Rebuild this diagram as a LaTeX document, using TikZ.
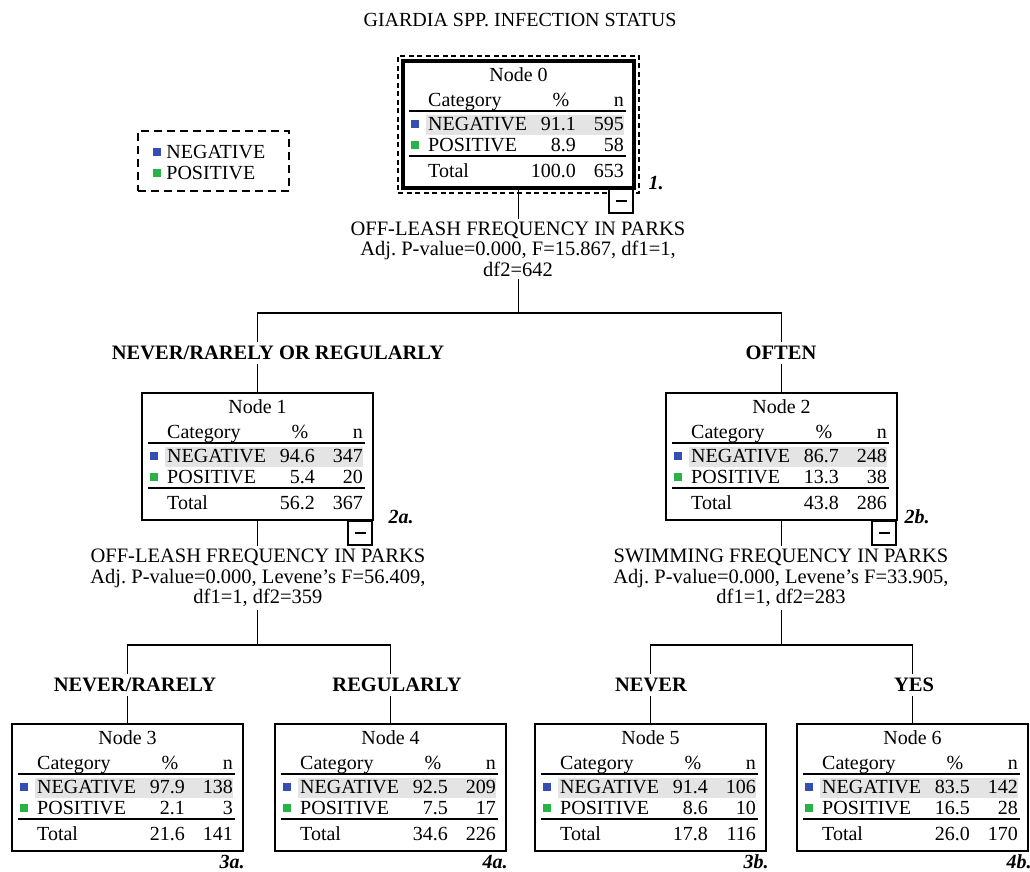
\documentclass[tikz,border=0pt]{standalone}
\usepackage{fontspec}
\setmainfont{Liberation Serif}
\frenchspacing
\usetikzlibrary{positioning,fit}
\definecolor{negblue}{RGB}{52,78,178}
\definecolor{posgreen}{RGB}{40,178,72}
\definecolor{rowgrey}{RGB}{228,228,228}
\tikzset{
  treebox/.style={draw,line width=1.8pt,minimum width=231pt,minimum height=127pt,inner sep=0pt,outer sep=0pt,anchor=north west},
  cell/.style={inner sep=0pt,text height=13pt,text depth=0pt},
  keysq/.style={fill=#1,minimum size=8pt,inner sep=0pt},
  minusbox/.style={draw,line width=1.6pt,minimum size=24pt,inner sep=0pt,anchor=north east,fill=white},
  splittext/.style={align=center,fill=white,inner sep=3pt,font=\fontsize{20.5}{20.5}\selectfont},
  edgetext/.style={fill=white,inner sep=4pt,font=\bfseries\fontsize{20.5}{20.5}\selectfont},
  tag/.style={font=\bfseries\itshape\fontsize{20}{20}\selectfont,inner sep=0pt}
}
\newcommand{\catnode}[9]{%
  \begin{scope}[shift={(#2,#3)}]
    \fill[rowgrey] (23,54) rectangle (221,74);
    \node[treebox] (n#1) at (0,0) {};
    \node[cell] (h#1) at (115.5,14) {Node #1};
    \node[cell,anchor=west] (c#1) at (25,39) {Category};
    \node[cell] (p#1) at (158,39) {\%};
    \node[cell,anchor=east] (k#1) at (221,39) {n};
    \draw[line width=1.4pt] (6,50) -- (223,50);
    \node[keysq=negblue] (qa#1) at (12,63) {};
    \node[cell,anchor=west] (la#1) at (25,63) {NEGATIVE};
    \node[cell,anchor=east] (pa#1) at (173,63) {#4};
    \node[cell,anchor=east] (ka#1) at (221,63) {#5};
    \node[keysq=posgreen] (qb#1) at (12,84) {};
    \node[cell,anchor=west] (lb#1) at (25,84) {POSITIVE};
    \node[cell,anchor=east] (pb#1) at (173,84) {#6};
    \node[cell,anchor=east] (kb#1) at (221,84) {#7};
    \draw[line width=1.4pt] (6,95) -- (223,95);
    \node[cell,anchor=west] (lt#1) at (25,110) {Total};
    \node[cell,anchor=east] (pt#1) at (173,110) {#8};
    \node[cell,anchor=east] (kt#1) at (221,110) {#9};
  \end{scope}}
\begin{document}
\begin{tikzpicture}[x=1pt,y=-1pt,font=\fontsize{20}{20}\selectfont]
\useasboundingbox (0,0) rectangle (1030,872);
\node (title) at (520,20) {GIARDIA SPP. INFECTION STATUS};
\node[draw,dash pattern=on 8pt off 5pt,line width=1.8pt,minimum width=151pt,minimum height=60pt] (leg) at (213.5,161) {};
\node[keysq=negblue] (kneg) at (157,152) {};
\node[cell,right=5pt of kneg] (lneg) {NEGATIVE};
\node[keysq=posgreen] (kpos) at (157,173) {};
\node[cell,right=5pt of kpos] (lpos) {POSITIVE};
\catnode{0}{403}{61}{91.1}{595}{8.9}{58}{100.0}{653}
\catnode{1}{142}{393}{94.6}{347}{5.4}{20}{56.2}{367}
\catnode{2}{666}{393}{86.7}{248}{13.3}{38}{43.8}{286}
\catnode{3}{12}{724}{97.9}{138}{2.1}{3}{21.6}{141}
\catnode{4}{275}{724}{92.5}{209}{7.5}{17}{34.6}{226}
\catnode{5}{535}{724}{91.4}{106}{8.6}{10}{17.8}{116}
\catnode{6}{797}{724}{83.5}{142}{16.5}{28}{26.0}{170}
\draw[line width=3.5pt] (n0.north west) rectangle (n0.south east);
\node[draw,dash pattern=on 5pt off 3.5pt,line width=1.8pt,fit=(n0),inner sep=5pt] (sel) {};
\coordinate (b0) at (n0.south |- 0,313);
\coordinate (b1) at (n1.south |- 0,645);
\coordinate (b2) at (n2.south |- 0,645);
\draw[line width=1.6pt] (n0.south) -- (b0);
\draw[line width=1.6pt] (n1.north) |- (b0) -| (n2.north);
\draw[line width=1.6pt] (n1.south) -- (b1);
\draw[line width=1.6pt] (n3.north) |- (b1) -| (n4.north);
\draw[line width=1.6pt] (n2.south) -- (b2);
\draw[line width=1.6pt] (n5.north) |- (b2) -| (n6.north);
\node[minusbox] (m0) at (n0.south east) {\rule{11pt}{1.6pt}};
\node[minusbox] (m1) at (n1.south east) {\rule{11pt}{1.6pt}};
\node[minusbox] (m2) at (n2.south east) {\rule{11pt}{1.6pt}};
\node[splittext] (s0) at (518,249) {OFF-LEASH FREQUENCY IN PARKS\\Adj. P-value=0.000, F=15.867, df1=1,\\df2=642};
\node[splittext] (s1) at (258,578) {OFF-LEASH FREQUENCY IN PARKS\\Adj. P-value=0.000, Levene{\char"27}s F=56.409,\\df1=1, df2=359};
\node[splittext] (s2) at (781,578) {SWIMMING FREQUENCY IN PARKS\\Adj. P-value=0.000, Levene{\char"27}s F=33.905,\\df1=1, df2=283};
\node[edgetext] (e1) at (278,353) {NEVER/RARELY OR REGULARLY};
\node[edgetext] (e2) at (781,353) {OFTEN};
\node[edgetext] (e3) at (135,685) {NEVER/RARELY};
\node[edgetext] (e4) at (397,685) {REGULARLY};
\node[edgetext] (e5) at (651,685) {NEVER};
\node[edgetext] (e6) at (914,685) {YES};
\node[tag] (t0) at (656,183) {1.};
\node[tag] (t1) at (401,517) {2a.};
\node[tag] (t2) at (917,517) {2b.};
\node[tag] (t3) at (232,862) {3a.};
\node[tag] (t4) at (495,862) {4a.};
\node[tag] (t5) at (756,862) {3b.};
\node[tag] (t6) at (1019,862) {4b.};
\end{tikzpicture}
\end{document}
